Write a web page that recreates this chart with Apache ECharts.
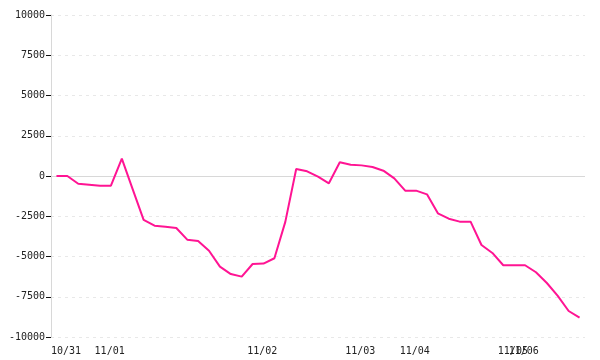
<!DOCTYPE html>
<html>
<head>
<meta charset="utf-8">
<script src="https://cdn.jsdelivr.net/npm/echarts@6/dist/echarts.min.js"></script>
<style>html,body{margin:0;padding:0;background:#fff}#c{width:600px;height:360px}</style>
</head>
<body>
<div id="c"></div>
<script>
// Values per sample (49 samples)
var values = [0, 0, -480, -540, -600, -600, 1080, -830, -2730, -3085,
  -3150, -3230, -3955, -4035, -4640, -5630, -6090, -6250, -5465, -5440,
  -5110, -2850, 435, 290, -40, -455, 850, 700, 660, 560,
  330, -145, -910, -910, -1140, -2320, -2650, -2835, -2835, -4285,
  -4780, -5545, -5545, -5545, -5980, -6645, -7450, -8385, -8800];
// Day labels and the sample index at which each one starts
var labelIdx = [0, 4, 18, 27, 32, 41, 42];
var labelText = ['10/31', '11/01', '11/02', '11/03', '11/04', '11/05', '11/06'];
// Y axis ticks
var yMin = -10000, yMax = 10000, yStep = 2500;

var labelMap = {};
labelIdx.forEach(function (k, i) { labelMap[k] = labelText[i]; });
var seriesData = values.map(function (v, i) { return [i, v]; });

var chart = echarts.init(document.getElementById('c'), null, {renderer: 'canvas'});
chart.setOption({
  animation: false,
  grid: {left: 51, right: 15, top: 15, bottom: 23, containLabel: false, outerBoundsMode: 'none'},
  xAxis: {
    type: 'value',
    min: -0.5, max: values.length - 0.5, interval: 1,
    axisLine: {show: false, onZero: false},
    axisTick: {show: false},
    splitLine: {show: false},
    axisLabel: {
      show: true, align: 'left', margin: 9,
      color: '#222', fontFamily: 'DejaVu Sans Mono', fontSize: 10,
      hideOverlap: false, showMinLabel: true, showMaxLabel: true,
      formatter: function (v) {
        var k = Math.round(v + 0.5);
        return labelMap[k] !== undefined ? labelMap[k] : '';
      }
    }
  },
  yAxis: {
    type: 'value', min: yMin, max: yMax, interval: yStep,
    axisLine: {show: true, onZero: false, lineStyle: {color: '#d8d8d8', width: 1}},
    axisTick: {show: true, length: 5, lineStyle: {color: '#111', width: 1}},
    axisLabel: {margin: 6, color: '#222', fontFamily: 'DejaVu Sans Mono', fontSize: 10,
      formatter: function (v) { return String(v); }},
    splitLine: {show: true, lineStyle: {color: '#e8e8e8', type: [3, 4], width: 1}}
  },
  series: [{
    type: 'line',
    data: [],
    z: 1,
    markLine: {
      silent: true, symbol: 'none', animation: false,
      label: {show: false},
      lineStyle: {color: '#d8d8d8', type: 'solid', width: 1},
      data: [{yAxis: 0}]
    }
  }, {
    type: 'line',
    data: seriesData,
    showSymbol: false,
    symbol: 'none',
    lineStyle: {color: '#ff1493', width: 2},
    itemStyle: {color: '#ff1493'},
    zlevel: 1,
    z: 3
  }]
});
</script>
</body>
</html>
